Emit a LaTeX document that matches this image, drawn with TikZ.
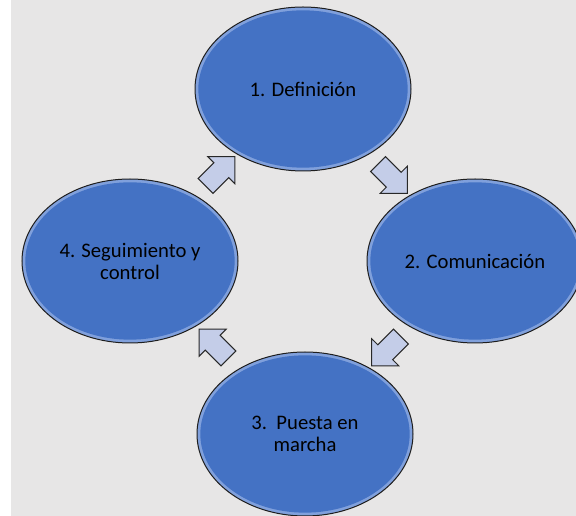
\documentclass[tikz,border=0pt]{standalone}
\usepackage{fontspec}
\setmainfont{Carlito}
\usepackage{tikz}
\usetikzlibrary{shapes.geometric,shapes.arrows,calc}

\definecolor{paper}{RGB}{231,230,230}
\definecolor{stageblue}{RGB}{68,114,196}
\definecolor{stagerim}{RGB}{128,160,220}
\definecolor{arrowfill}{RGB}{196,205,232}

\tikzset{
  stage/.style={ellipse, draw={rgb, 255:red, 30; green, 30; blue, 30}, line width=0.75,
    fill=stagerim, minimum width=162pt, minimum height=123pt, inner sep=0pt,
    align=center, font=\fontsize{15.5}{16.5}\selectfont,
    path picture={\fill[stageblue] (path picture bounding box.center) ellipse [x radius=78.5pt, y radius=59pt];}},
  cyclearrow/.style={single arrow, draw={rgb, 255:red, 40; green, 40; blue, 40}, line width=0.75,
    fill=arrowfill, minimum height=31pt, minimum width=28pt,
    single arrow head extend=6.5pt, inner xsep=0pt, inner ysep=7.5pt}
}

\begin{document}
\begin{tikzpicture}[x=0.75pt,y=0.75pt,yscale=-1,xscale=1]
\useasboundingbox (0,0) rectangle (576,516);
\clip (0,0) rectangle (576,516);

%Shape: Rectangle (background)
\fill [paper] (11,0) rectangle (576,516);

%Shape: Ellipse
\node [stage] (def) at (303,89) {1. Definición};
%Shape: Ellipse
\node [stage] (com) at (475,261) {2. Comunicación};
%Shape: Ellipse
\node [stage] (pue) at (305,434) {3.\ \ Puesta en\\marcha};
%Shape: Ellipse
\node [stage] (seg) at (130,261) {4. Seguimiento y\\control};

%Shape: Right Arrow
\node [cyclearrow, rotate=-45] (defcom) at ($(def)!0.5!(com)$) {};
%Shape: Right Arrow
\node [cyclearrow, rotate=-135] (compue) at ($(com)!0.5!(pue)$) {};
%Shape: Right Arrow
\node [cyclearrow, rotate=135] (pueseg) at ($(pue)!0.5!(seg)$) {};
%Shape: Right Arrow
\node [cyclearrow, rotate=45] (segdef) at ($(seg)!0.5!(def)$) {};

\end{tikzpicture}
\end{document}
